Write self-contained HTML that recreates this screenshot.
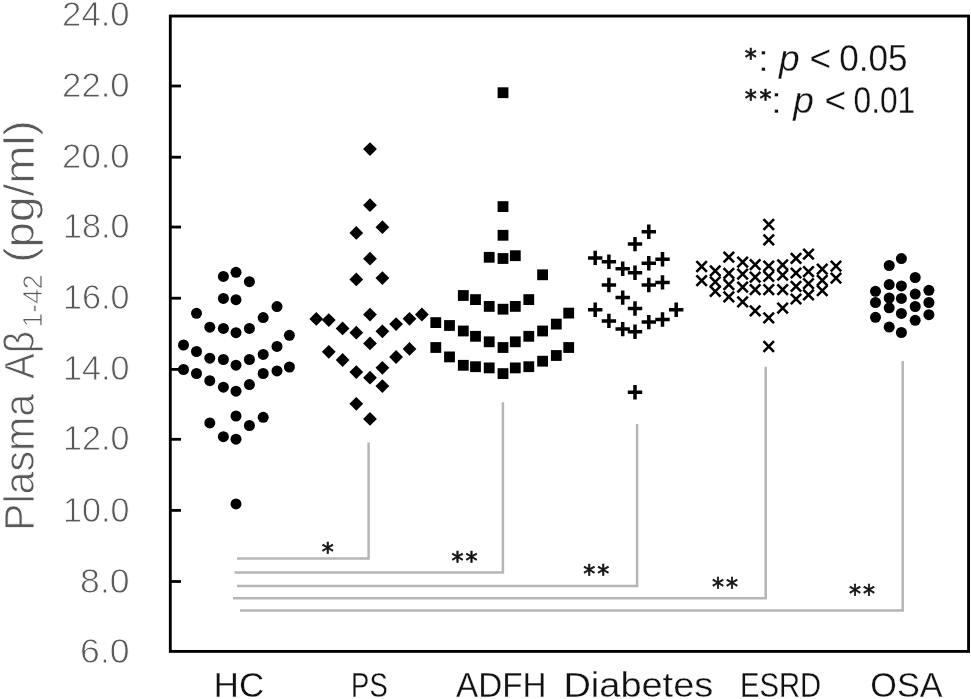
<!DOCTYPE html>
<html lang="en"><head><meta charset="utf-8"><title>Plasma A&#946;1-42 scatter plot</title>
<style>html,body{margin:0;padding:0;background:#fff}body{width:971px;height:699px;overflow:hidden}svg{display:block}svg{font-family:"Liberation Sans",sans-serif}.g{fill:#595959}.t{stroke:#fff;stroke-width:.8px}.u{stroke:#fff;stroke-width:.3px}.k{fill:#111}.st{font-family:"DejaVu Sans","Liberation Sans",sans-serif;font-size:24px;fill:#111;stroke:#111;stroke-width:.7px}</style></head><body>
<svg width="971" height="699" viewBox="0 0 971 699">
<rect width="971" height="699" fill="#fff"/>
<g fill="none" stroke="#b6b6b6" stroke-width="2.5" stroke-linejoin="miter">
<polyline points="237.0,558.5 368.6,558.5 368.6,442.5"/>
<polyline points="234.5,572.4 502.9,572.4 502.9,402.3"/>
<polyline points="237.0,586.0 637.1,586.0 637.1,424.0"/>
<polyline points="233.0,598.3 765.7,598.3 765.7,366.8"/>
<polyline points="240.0,610.6 902.7,610.6 902.7,361.0"/>
</g>
<rect x="170.3" y="16.05" width="798.25" height="635.35" fill="none" stroke="#000" stroke-width="2.85"/>
<g stroke="#000" stroke-width="2.8">
<line x1="171" y1="86.0" x2="181" y2="86.0"/>
<line x1="171" y1="157.2" x2="181" y2="157.2"/>
<line x1="171" y1="227.05" x2="181" y2="227.05"/>
<line x1="171" y1="298.2" x2="181" y2="298.2"/>
<line x1="171" y1="369.4" x2="181" y2="369.4"/>
<line x1="171" y1="439.3" x2="181" y2="439.3"/>
<line x1="171" y1="510.4" x2="181" y2="510.4"/>
<line x1="171" y1="581.5" x2="181" y2="581.5"/>
</g>
<g class="g t" font-size="35.7" text-anchor="end">
<text x="129.6" y="26.0" textLength="67.5" lengthAdjust="spacingAndGlyphs">24.0</text>
<text x="129.6" y="97.1" textLength="67.5" lengthAdjust="spacingAndGlyphs">22.0</text>
<text x="129.6" y="168.4" textLength="67.5" lengthAdjust="spacingAndGlyphs">20.0</text>
<text x="129.6" y="238.1" textLength="66.5" lengthAdjust="spacingAndGlyphs">18.0</text>
<text x="129.6" y="309.1" textLength="66.5" lengthAdjust="spacingAndGlyphs">16.0</text>
<text x="129.6" y="380.4" textLength="66.5" lengthAdjust="spacingAndGlyphs">14.0</text>
<text x="129.6" y="450.3" textLength="66.5" lengthAdjust="spacingAndGlyphs">12.0</text>
<text x="129.6" y="521.6" textLength="66.5" lengthAdjust="spacingAndGlyphs">10.0</text>
<text x="129.6" y="592.6" textLength="49.5" lengthAdjust="spacingAndGlyphs">8.0</text>
<text x="129.6" y="662.7" textLength="49.5" lengthAdjust="spacingAndGlyphs">6.0</text>
</g>
<g class="g t" transform="translate(33.5,531.5) rotate(-90)">
<text x="0.6" y="0" font-size="42" textLength="137" lengthAdjust="spacingAndGlyphs">Plasma</text>
<text x="152.6" y="0" font-size="42" textLength="48" lengthAdjust="spacingAndGlyphs">A&#946;</text>
<text x="204.1" y="8" font-size="27.3" textLength="53" lengthAdjust="spacingAndGlyphs">1-42</text>
<text x="268.8" y="0" font-size="42" textLength="142.5" lengthAdjust="spacingAndGlyphs">(pg/ml)</text>
</g>
<g class="k u" font-size="35.3">
<text x="213.8" y="696.5" textLength="50.3" lengthAdjust="spacingAndGlyphs">HC</text>
<text x="351.1" y="696.5" textLength="36.6" lengthAdjust="spacingAndGlyphs">PS</text>
<text x="456.0" y="696.5" textLength="90.5" lengthAdjust="spacingAndGlyphs">ADFH</text>
<text x="563.4" y="696.5" textLength="149.9" lengthAdjust="spacingAndGlyphs">Diabetes</text>
<text x="740.0" y="696.5" textLength="81.2" lengthAdjust="spacingAndGlyphs">ESRD</text>
<text x="870.3" y="696.5" textLength="72.2" lengthAdjust="spacingAndGlyphs">OSA</text>
</g>
<g class="k u" font-size="37.1">
<text x="758.3" y="70.9">:</text>
<text x="779.0" y="70.9" font-style="italic">p</text>
<text x="809.4" y="70.9">&lt;</text>
<text x="839.2" y="70.9" textLength="68.4" lengthAdjust="spacingAndGlyphs">0.05</text>
<text x="771.2" y="113.4">:</text>
<text x="793.3" y="113.4" font-style="italic">p</text>
<text x="824.5" y="113.4">&lt;</text>
<text x="853.6" y="113.4" textLength="61.6" lengthAdjust="spacingAndGlyphs">0.01</text>
</g>
<g class="st" text-anchor="middle">
<text x="327.7" y="560.4">*</text>
<text x="750.8" y="65.7">*</text>
<text x="750.8" y="106.7">*</text>
<text x="765.4" y="106.7">*</text>
<text x="457.6" y="568.8">*</text>
<text x="471.6" y="568.8">*</text>
<text x="589.3" y="582.4">*</text>
<text x="603.3" y="582.4">*</text>
<text x="717.9" y="594.8">*</text>
<text x="731.9" y="594.8">*</text>
<text x="854.9" y="601.6">*</text>
<text x="868.9" y="601.6">*</text>
</g>
<g fill="#000">
<circle cx="223.4" cy="276.4" r="5.5"/>
<circle cx="236.0" cy="272.3" r="5.5"/>
<circle cx="249.4" cy="281.7" r="5.5"/>
<circle cx="223.4" cy="298.4" r="5.5"/>
<circle cx="236.0" cy="299.7" r="5.5"/>
<circle cx="196.5" cy="313.3" r="5.5"/>
<circle cx="277.0" cy="306.6" r="5.5"/>
<circle cx="263.2" cy="317.6" r="5.5"/>
<circle cx="209.8" cy="327.2" r="5.5"/>
<circle cx="223.4" cy="328.4" r="5.5"/>
<circle cx="236.0" cy="332.7" r="5.5"/>
<circle cx="249.4" cy="328.4" r="5.5"/>
<circle cx="289.4" cy="335.3" r="5.5"/>
<circle cx="183.5" cy="345.0" r="5.5"/>
<circle cx="196.5" cy="351.5" r="5.5"/>
<circle cx="209.8" cy="358.2" r="5.5"/>
<circle cx="223.4" cy="359.5" r="5.5"/>
<circle cx="236.0" cy="365.2" r="5.5"/>
<circle cx="249.4" cy="359.5" r="5.5"/>
<circle cx="263.2" cy="354.4" r="5.5"/>
<circle cx="277.0" cy="346.4" r="5.5"/>
<circle cx="183.5" cy="369.5" r="5.5"/>
<circle cx="196.5" cy="373.5" r="5.5"/>
<circle cx="209.8" cy="380.7" r="5.5"/>
<circle cx="223.4" cy="387.2" r="5.5"/>
<circle cx="236.0" cy="391.2" r="5.5"/>
<circle cx="249.4" cy="384.6" r="5.5"/>
<circle cx="263.2" cy="373.5" r="5.5"/>
<circle cx="277.0" cy="370.9" r="5.5"/>
<circle cx="289.4" cy="367.0" r="5.5"/>
<circle cx="209.8" cy="422.9" r="5.5"/>
<circle cx="236.0" cy="416.0" r="5.5"/>
<circle cx="263.2" cy="417.3" r="5.5"/>
<circle cx="249.4" cy="425.5" r="5.5"/>
<circle cx="223.4" cy="436.7" r="5.5"/>
<circle cx="236.0" cy="439.2" r="5.5"/>
<circle cx="236.0" cy="503.9" r="5.5"/>
<circle cx="875.5" cy="291.3" r="5.5"/>
<circle cx="875.5" cy="302.5" r="5.5"/>
<circle cx="875.5" cy="317.3" r="5.5"/>
<circle cx="889.2" cy="265.5" r="5.5"/>
<circle cx="889.2" cy="284.6" r="5.5"/>
<circle cx="889.2" cy="298.0" r="5.5"/>
<circle cx="889.2" cy="307.8" r="5.5"/>
<circle cx="889.2" cy="327.1" r="5.5"/>
<circle cx="901.4" cy="258.6" r="5.5"/>
<circle cx="901.4" cy="285.9" r="5.5"/>
<circle cx="901.4" cy="298.4" r="5.5"/>
<circle cx="901.4" cy="313.4" r="5.5"/>
<circle cx="901.4" cy="332.5" r="5.5"/>
<circle cx="915.2" cy="277.5" r="5.5"/>
<circle cx="915.2" cy="294.1" r="5.5"/>
<circle cx="915.2" cy="306.5" r="5.5"/>
<circle cx="915.2" cy="320.3" r="5.5"/>
<circle cx="928.9" cy="290.3" r="5.5"/>
<circle cx="928.9" cy="302.5" r="5.5"/>
<circle cx="928.9" cy="314.7" r="5.5"/>
<path d="M370.0 142.2L376.9 149.1L370.0 156.0L363.1 149.1Z"/>
<path d="M370.0 198.3L376.9 205.2L370.0 212.1L363.1 205.2Z"/>
<path d="M382.4 220.3L389.3 227.2L382.4 234.1L375.5 227.2Z"/>
<path d="M356.3 226.0L363.2 232.9L356.3 239.8L349.4 232.9Z"/>
<path d="M370.0 251.8L376.9 258.7L370.0 265.6L363.1 258.7Z"/>
<path d="M356.3 272.5L363.2 279.4L356.3 286.3L349.4 279.4Z"/>
<path d="M382.4 271.2L389.3 278.1L382.4 285.0L375.5 278.1Z"/>
<path d="M370.0 307.7L376.9 314.6L370.0 321.5L363.1 314.6Z"/>
<path d="M316.3 312.0L323.2 318.9L316.3 325.8L309.4 318.9Z"/>
<path d="M328.8 313.2L335.7 320.1L328.8 327.0L321.9 320.1Z"/>
<path d="M342.6 321.5L349.5 328.4L342.6 335.3L335.7 328.4Z"/>
<path d="M356.3 325.8L363.2 332.7L356.3 339.6L349.4 332.7Z"/>
<path d="M382.4 324.4L389.3 331.3L382.4 338.2L375.5 331.3Z"/>
<path d="M396.1 317.2L403.0 324.1L396.1 331.0L389.2 324.1Z"/>
<path d="M409.5 311.9L416.4 318.8L409.5 325.7L402.6 318.8Z"/>
<path d="M421.9 307.6L428.8 314.5L421.9 321.4L415.0 314.5Z"/>
<path d="M370.0 336.5L376.9 343.4L370.0 350.3L363.1 343.4Z"/>
<path d="M328.8 344.9L335.7 351.8L328.8 358.7L321.9 351.8Z"/>
<path d="M409.5 342.0L416.4 348.9L409.5 355.8L402.6 348.9Z"/>
<path d="M342.6 353.1L349.5 360.0L342.6 366.9L335.7 360.0Z"/>
<path d="M396.1 350.1L403.0 357.0L396.1 363.9L389.2 357.0Z"/>
<path d="M356.3 365.2L363.2 372.1L356.3 379.0L349.4 372.1Z"/>
<path d="M382.4 360.9L389.3 367.8L382.4 374.7L375.5 367.8Z"/>
<path d="M370.0 370.8L376.9 377.7L370.0 384.6L363.1 377.7Z"/>
<path d="M382.4 379.2L389.3 386.1L382.4 393.0L375.5 386.1Z"/>
<path d="M356.3 396.9L363.2 403.8L356.3 410.7L349.4 403.8Z"/>
<path d="M370.0 412.0L376.9 418.9L370.0 425.8L363.1 418.9Z"/>
<rect x="497.6" y="87.3" width="10.8" height="10.8"/>
<rect x="497.6" y="201.2" width="10.8" height="10.8"/>
<rect x="497.6" y="229.9" width="10.8" height="10.8"/>
<rect x="483.8" y="251.9" width="10.8" height="10.8"/>
<rect x="497.6" y="253.1" width="10.8" height="10.8"/>
<rect x="509.9" y="250.3" width="10.8" height="10.8"/>
<rect x="537.2" y="269.4" width="10.8" height="10.8"/>
<rect x="457.9" y="290.1" width="10.8" height="10.8"/>
<rect x="470.1" y="294.2" width="10.8" height="10.8"/>
<rect x="483.8" y="301.0" width="10.8" height="10.8"/>
<rect x="497.6" y="303.8" width="10.8" height="10.8"/>
<rect x="509.9" y="301.0" width="10.8" height="10.8"/>
<rect x="523.4" y="294.2" width="10.8" height="10.8"/>
<rect x="430.4" y="317.2" width="10.8" height="10.8"/>
<rect x="444.1" y="320.1" width="10.8" height="10.8"/>
<rect x="457.9" y="325.6" width="10.8" height="10.8"/>
<rect x="470.1" y="330.9" width="10.8" height="10.8"/>
<rect x="483.8" y="336.4" width="10.8" height="10.8"/>
<rect x="497.6" y="342.1" width="10.8" height="10.8"/>
<rect x="509.9" y="336.4" width="10.8" height="10.8"/>
<rect x="523.4" y="330.9" width="10.8" height="10.8"/>
<rect x="537.2" y="325.6" width="10.8" height="10.8"/>
<rect x="550.9" y="318.7" width="10.8" height="10.8"/>
<rect x="563.3" y="307.7" width="10.8" height="10.8"/>
<rect x="430.4" y="342.1" width="10.8" height="10.8"/>
<rect x="444.1" y="351.5" width="10.8" height="10.8"/>
<rect x="457.9" y="359.9" width="10.8" height="10.8"/>
<rect x="470.1" y="361.3" width="10.8" height="10.8"/>
<rect x="483.8" y="362.5" width="10.8" height="10.8"/>
<rect x="497.6" y="368.2" width="10.8" height="10.8"/>
<rect x="509.9" y="362.5" width="10.8" height="10.8"/>
<rect x="523.4" y="361.3" width="10.8" height="10.8"/>
<rect x="537.2" y="355.8" width="10.8" height="10.8"/>
<rect x="550.9" y="350.1" width="10.8" height="10.8"/>
<rect x="563.3" y="342.1" width="10.8" height="10.8"/>
</g>
<g stroke="#000" stroke-width="3.5" fill="none">
<path d="M641.6 231.8H656.0M648.8 224.6V239.0"/>
<path d="M627.8 244.1H642.2M635.0 236.9V251.3"/>
<path d="M588.0 257.9H602.4M595.2 250.7V265.1"/>
<path d="M601.7 261.8H616.1M608.9 254.6V269.0"/>
<path d="M615.5 268.7H629.9M622.7 261.5V275.9"/>
<path d="M627.8 272.8H642.2M635.0 265.6V280.0"/>
<path d="M641.6 263.2H656.0M648.8 256.0V270.4"/>
<path d="M655.3 259.2H669.7M662.5 252.0V266.4"/>
<path d="M601.7 285.0H616.1M608.9 277.8V292.2"/>
<path d="M641.6 285.0H656.0M648.8 277.8V292.2"/>
<path d="M655.3 282.4H669.7M662.5 275.2V289.6"/>
<path d="M615.5 297.6H629.9M622.7 290.4V304.8"/>
<path d="M588.0 309.8H602.4M595.2 302.6V317.0"/>
<path d="M627.8 308.5H642.2M635.0 301.3V315.7"/>
<path d="M669.0 309.8H683.4M676.2 302.6V317.0"/>
<path d="M601.7 320.9H616.1M608.9 313.7V328.1"/>
<path d="M615.5 329.1H629.9M622.7 321.9V336.3"/>
<path d="M627.8 331.7H642.2M635.0 324.5V338.9"/>
<path d="M641.6 322.1H656.0M648.8 314.9V329.3"/>
<path d="M655.3 319.5H669.7M662.5 312.3V326.7"/>
<path d="M627.8 392.3H642.2M635.0 385.1V399.5"/>
</g>
<g stroke="#000" stroke-width="2.6" fill="none">
<path d="M696.4 261.2L706.9 271.8M696.4 271.8L706.9 261.2"/>
<path d="M696.4 275.4L706.9 285.9M696.4 285.9L706.9 275.4"/>
<path d="M710.0 265.6L720.5 276.1M710.0 276.1L720.5 265.6"/>
<path d="M710.0 276.6L720.5 287.1M710.0 287.1L720.5 276.6"/>
<path d="M710.0 286.1L720.5 296.6M710.0 296.6L720.5 286.1"/>
<path d="M723.6 251.9L734.1 262.4M723.6 262.4L734.1 251.9"/>
<path d="M723.6 268.1L734.1 278.6M723.6 278.6L734.1 268.1"/>
<path d="M723.6 279.2L734.1 289.8M723.6 289.8L734.1 279.2"/>
<path d="M723.6 291.6L734.1 302.1M723.6 302.1L734.1 291.6"/>
<path d="M737.4 256.9L747.9 267.4M737.4 267.4L747.9 256.9"/>
<path d="M737.4 268.9L747.9 279.4M737.4 279.4L747.9 268.9"/>
<path d="M737.4 281.9L747.9 292.4M737.4 292.4L747.9 281.9"/>
<path d="M737.4 296.6L747.9 307.1M737.4 307.1L747.9 296.6"/>
<path d="M749.9 259.4L760.4 269.9M749.9 269.9L760.4 259.4"/>
<path d="M749.9 271.9L760.4 282.4M749.9 282.4L760.4 271.9"/>
<path d="M749.9 284.4L760.4 294.9M749.9 294.9L760.4 284.4"/>
<path d="M749.9 305.6L760.4 316.1M749.9 316.1L760.4 305.6"/>
<path d="M763.5 219.2L774.0 229.8M763.5 229.8L774.0 219.2"/>
<path d="M763.5 234.7L774.0 245.2M763.5 245.2L774.0 234.7"/>
<path d="M763.5 260.8L774.0 271.2M763.5 271.2L774.0 260.8"/>
<path d="M763.5 271.1L774.0 281.6M763.5 281.6L774.0 271.1"/>
<path d="M763.5 284.4L774.0 294.9M763.5 294.9L774.0 284.4"/>
<path d="M763.5 312.6L774.0 323.1M763.5 323.1L774.0 312.6"/>
<path d="M763.5 341.2L774.0 351.8M763.5 351.8L774.0 341.2"/>
<path d="M777.4 259.6L787.9 270.1M777.4 270.1L787.9 259.6"/>
<path d="M777.4 269.9L787.9 280.4M777.4 280.4L787.9 269.9"/>
<path d="M777.4 284.4L787.9 294.9M777.4 294.9L787.9 284.4"/>
<path d="M777.4 302.9L787.9 313.4M777.4 313.4L787.9 302.9"/>
<path d="M790.8 253.1L801.2 263.6M790.8 263.6L801.2 253.1"/>
<path d="M790.8 267.8L801.2 278.2M790.8 278.2L801.2 267.8"/>
<path d="M790.8 281.1L801.2 291.6M790.8 291.6L801.2 281.1"/>
<path d="M790.8 293.8L801.2 304.2M790.8 304.2L801.2 293.8"/>
<path d="M803.2 248.8L813.8 259.4M803.2 259.4L813.8 248.8"/>
<path d="M803.2 266.4L813.8 276.9M803.2 276.9L813.8 266.4"/>
<path d="M803.2 278.4L813.8 288.9M803.2 288.9L813.8 278.4"/>
<path d="M803.2 289.6L813.8 300.1M803.2 300.1L813.8 289.6"/>
<path d="M817.0 263.9L827.5 274.4M817.0 274.4L827.5 263.9"/>
<path d="M817.0 275.1L827.5 285.6M817.0 285.6L827.5 275.1"/>
<path d="M817.0 285.4L827.5 295.9M817.0 295.9L827.5 285.4"/>
<path d="M830.8 260.9L841.2 271.4M830.8 271.4L841.2 260.9"/>
<path d="M830.8 272.9L841.2 283.4M830.8 283.4L841.2 272.9"/>
</g>
</svg></body></html>
